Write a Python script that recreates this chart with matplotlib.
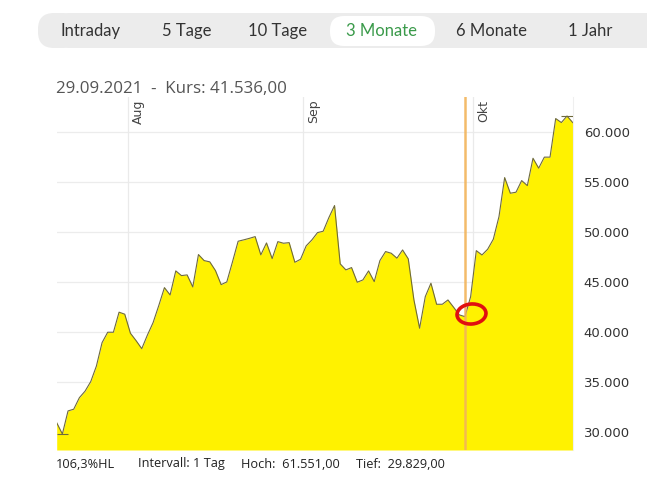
import matplotlib
matplotlib.use("Agg")
import matplotlib.pyplot as plt
from matplotlib.patches import FancyBboxPatch, Ellipse
import numpy as np
import pandas as pd

# ---------------- data ----------------
start_date = "2021-07-19 12:00"
prices = [30950, 29829, 32130, 32300, 33450, 34100, 35050, 36600, 38940, 39980,
          39980, 41980, 41780, 39880, 39140, 38340, 39700, 40940, 42640, 44430,
          43700, 46100, 45630, 45700, 44500, 47730, 47130, 47000, 46130, 44730,
          45000, 47000, 49060, 49200, 49350, 49520, 47700, 48890, 47330, 49020,
          48860, 48920, 46960, 47260, 48600, 49190, 49920, 50060, 51420, 52620,
          46800, 46200, 46430, 44970, 45200, 46100, 45030, 47130, 48030, 47860,
          47370, 48190, 47300, 43200, 40380, 43530, 44870, 42770, 42770, 43200,
          42470, 41710, 41536, 43530, 48120, 47690, 48260, 49260, 51520, 55410,
          53850, 53950, 55110, 54610, 57340, 56350, 57450, 57450, 61300, 60900,
          61551, 60900]
dates = pd.date_range(start_date, periods=len(prices), freq="D")
month_dates = ["2021-08-01", "2021-09-01", "2021-10-01"]
month_labels = ["Aug", "Sep", "Okt"]
y_ticks = [30000, 35000, 40000, 45000, 50000, 55000, 60000]
y_tick_labels = ["30.000", "35.000", "40.000", "45.000", "50.000", "55.000", "60.000"]
marker_date = "2021-09-29 12:00"
title_text = "29.09.2021  -  Kurs: 41.536,00"
tabs = ["Intraday", "5 Tage", "10 Tage", "3 Monate", "6 Monate", "1 Jahr"]
active_tab = "3 Monate"
footer = ["106,3%HL", "Intervall: 1 Tag", "Hoch:  61.551,00", "Tief:  29.829,00"]

# ---------------- figure ----------------
W, H = 647, 479
fig = plt.figure(figsize=(W / 100, H / 100), dpi=100)
fig.patch.set_facecolor("white")

def fx(x):
    return x / W

def fy(y):
    return 1 - y / H

# plot area in pixels
L, R, T, B = 56.7, 572.7, 97, 450
ax = fig.add_axes([fx(L), fy(B), fx(R) - fx(L), fy(T) - fy(B)])

x = np.array(dates.to_pydatetime())
y = np.array(prices, dtype=float)
ax.set_xlim(dates[0], dates[-1])
ax.set_ylim(28230, 63450)

for v in y_ticks:
    ax.axhline(v, color="#ececec", lw=0.9, zorder=0)
for d in month_dates:
    ax.axvline(pd.Timestamp(d), color="#eaeaea", lw=0.9, zorder=0)

ax.fill_between(x, y, 28230, color="#fff200", lw=0, zorder=1)
ax.plot(x, y, color="#6e6a3c", lw=0.8, zorder=2)

# high / low markers
i_hi = int(np.argmax(y)); i_lo = int(np.argmin(y))
ax.hlines(y[i_hi], dates[i_hi - 1], dates[min(i_hi + 1, len(y) - 1)], color="#6e6a3c", lw=0.8, zorder=3)
ax.hlines(y[i_lo], dates[max(i_lo - 1, 0)], dates[i_lo + 1], color="#6e6a3c", lw=0.8, zorder=3)

# selected date line
ax.axvline(pd.Timestamp(marker_date), color="#f2b45a", lw=1.8, alpha=0.9, zorder=4)

# month labels
for d, lab in zip(month_dates, month_labels):
    ax.annotate(lab, (pd.Timestamp(d), 63200), xytext=(3, 0), textcoords="offset points",
                rotation=90, ha="left", va="top", fontsize=9, color="#444444",
                family="DejaVu Sans", zorder=5)

for s in ["top", "left", "bottom"]:
    ax.spines[s].set_visible(False)
ax.spines["right"].set_color("#efefef")
ax.set_xticks([])
ax.yaxis.tick_right()
ax.set_yticks(y_ticks)
ax.set_yticklabels(y_tick_labels, fontsize=9.5, color="#333333", family="DejaVu Sans")
ax.tick_params(axis="y", length=0, pad=8)

# overlay axes in pixel coordinates
ov = fig.add_axes([0, 0, 1, 1], facecolor="none")
ov.set_xlim(0, W); ov.set_ylim(H, 0); ov.axis("off")
ov.add_patch(Ellipse((471.5, 314), 29, 20, angle=-5, fill=False, ec="#e01010", lw=2.6))

# tab bar
ov.add_patch(FancyBboxPatch((54, 13), 700, 35, boxstyle="round,pad=0,rounding_size=16",
                            fc="#ececec", ec="none"))
ov.add_patch(FancyBboxPatch((38, 13), 40, 35, boxstyle="round,pad=0,rounding_size=16",
                            fc="#ececec", ec="none"))
ov.add_patch(FancyBboxPatch((330, 16), 105, 30, boxstyle="round,pad=0,rounding_size=14",
                            fc="white", ec="none"))
tab_x = [91, 187, 278, 382, 492, 590]
for t, tx in zip(tabs, tab_x):
    ov.text(tx, 31, t, ha="center", va="center", fontsize=12, family="Lato",
            color="#3a9a4a" if t == active_tab else "#333333")

# title
ov.text(56, 89, title_text, ha="left", va="center", fontsize=12.2,
        family="Open Sans", color="#555555")

# footer
foot_x = [56, 138, 241, 356]
for t, tx in zip(footer, foot_x):
    ov.text(tx, 464, t, ha="left", va="center", fontsize=9.2, family="Open Sans", color="#222222")

fig.savefig("out.png", dpi=100, facecolor="white")
